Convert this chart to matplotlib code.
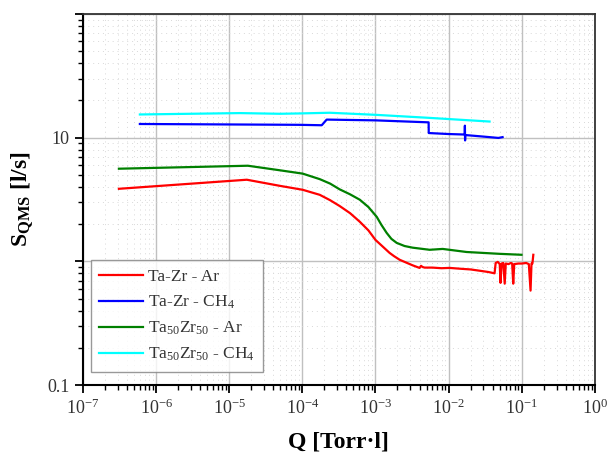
import matplotlib
matplotlib.use("Agg")
import matplotlib.pyplot as plt
from matplotlib.ticker import LogLocator, NullFormatter

plt.rcParams["font.family"] = ["Liberation Serif", "DejaVu Serif"]
plt.rcParams["mathtext.fontset"] = "custom"
plt.rcParams["mathtext.rm"] = "Liberation Serif"
plt.rcParams["mathtext.it"] = "Liberation Serif:italic"
plt.rcParams["mathtext.bf"] = "Liberation Serif:bold"
plt.rcParams["mathtext.default"] = "regular"

# Ta-Zr in Ar
q_tazr_ar = [3.1e-7, 1.74e-5, 4.9e-5, 1.01e-4, 1.73e-4, 2.4e-4, 3.24e-4, 4.5e-4, 6.1e-4,
             8.0e-4, 1.0e-3, 1.25e-3, 1.56e-3, 1.8e-3, 2.14e-3, 2.6e-3, 3.2e-3, 4.0e-3,
             4.2e-3, 4.4e-3, 4.7e-3, 6.0e-3, 8.0e-3, 1.03e-2, 1.5e-2, 2.0e-2, 2.65e-2,
             3.5e-2, 4.25e-2,
             0.0440, 0.0470, 0.0500, 0.0513, 0.0530, 0.0560, 0.0585, 0.0605, 0.0660,
             0.0710, 0.0740, 0.0765, 0.0790, 0.0900, 0.1000, 0.1150, 0.1250, 0.1320,
             0.1360, 0.1400, 0.1440]
s_tazr_ar = [3.86, 4.57, 4.08, 3.79, 3.45, 3.12, 2.80, 2.45, 2.09,
             1.78, 1.49, 1.32, 1.17, 1.10, 1.03, 0.98, 0.93, 0.885,
             0.92, 0.90, 0.89, 0.89, 0.88, 0.885, 0.87, 0.86, 0.84,
             0.82, 0.80,
             0.97, 0.99, 0.95, 0.67, 0.96, 0.97, 0.66, 0.96, 0.95,
             0.97, 0.96, 0.66, 0.95, 0.96, 0.96, 0.97, 0.95, 0.58,
             0.96, 0.96, 1.13]

# Ta-Zr in CH4
q_tazr_ch4 = [6.0e-7, 9.2e-5, 1.84e-4, 2.15e-4, 1.0e-3, 5.33e-3, 5.35e-3, 1.0e-2,
              1.66e-2, 1.67e-2, 1.68e-2, 1.69e-2, 3.0e-2, 4.8e-2, 5.47e-2]
s_tazr_ch4 = [12.9, 12.7, 12.6, 14.0, 13.8, 13.3, 10.9, 10.7,
              10.6, 12.5, 9.5, 10.5, 10.2, 9.95, 10.1]

# Ta50Zr50 in Ar
q_ta50_ar = [3.1e-7, 1.8e-5, 4.9e-5, 1.01e-4, 1.73e-4, 2.4e-4, 3.24e-4, 4.5e-4, 6.1e-4,
             8.0e-4, 1.04e-3, 1.2e-3, 1.42e-3, 1.65e-3, 1.95e-3, 2.5e-3, 3.22e-3,
             5.5e-3, 8.3e-3, 1.76e-2, 4.98e-2, 9.93e-2]
s_ta50_ar = [5.61, 5.93, 5.45, 5.12, 4.62, 4.25, 3.82, 3.48, 3.15,
             2.75, 2.29, 1.98, 1.70, 1.52, 1.41, 1.33, 1.29,
             1.24, 1.26, 1.19, 1.15, 1.13]

# Ta50Zr50 in CH4
q_ta50_ch4 = [6.0e-7, 1.40e-5, 4.9e-5, 9.2e-5, 2.37e-4, 1.0e-3, 5.0e-3, 3.63e-2]
s_ta50_ch4 = [15.4, 15.8, 15.6, 15.7, 15.9, 15.3, 14.5, 13.5]

labels = ["Ta-Zr - Ar", "Ta-Zr - CH$_4$",
          "Ta$_{50}$Zr$_{50}$ - Ar", "Ta$_{50}$Zr$_{50}$ - CH$_4$"]
colors = ["#ff0000", "#0000ff", "#008000", "#00ffff"]

x_ticks = [1e-7, 1e-6, 1e-5, 1e-4, 1e-3, 1e-2, 1e-1, 1e0]
x_tick_labels = ["$10^{-7}$", "$10^{-6}$", "$10^{-5}$", "$10^{-4}$",
                 "$10^{-3}$", "$10^{-2}$", "$10^{-1}$", "$10^{0}$"]
y_ticks = [0.1, 1, 10, 100]
y_tick_labels = ["0.1", "", "10", ""]

fig = plt.figure(figsize=(6.07, 4.57), dpi=100)
ax = fig.add_axes([0.1367, 0.1575, 0.8433, 0.8119])

series = [(q_tazr_ar, s_tazr_ar), (q_tazr_ch4, s_tazr_ch4),
          (q_ta50_ar, s_ta50_ar), (q_ta50_ch4, s_ta50_ch4)]
for (q, s), lab, c in zip(series, labels, colors):
    ax.plot(q, s, color=c, lw=1.6, label=lab, zorder=3)

ax.set_xscale("log")
ax.set_yscale("log")
ax.set_xlim(1e-7, 1e0)
ax.set_ylim(0.1, 100)

ax.set_xticks(x_ticks, x_tick_labels)
ax.set_yticks(y_ticks, y_tick_labels)
ax.xaxis.set_minor_locator(LogLocator(base=10, subs=range(2, 10), numticks=20))
ax.yaxis.set_minor_locator(LogLocator(base=10, subs=range(2, 10), numticks=20))
ax.xaxis.set_minor_formatter(NullFormatter())
ax.yaxis.set_minor_formatter(NullFormatter())

ax.tick_params(which="major", direction="out", length=6, width=1.3,
               labelsize=13, labelcolor="#333333", top=False, right=False)
ax.tick_params(which="minor", direction="out", length=3.5, width=1.0,
               top=False, right=False)

ax.grid(True, which="major", color="#c0c0c0", lw=1.0, ls="-", zorder=0)
ax.grid(True, which="minor", color="#d8d8d8", lw=0.7, ls=(0, (1, 4)), zorder=0)
ax.set_axisbelow(True)

for side in ["left", "bottom"]:
    ax.spines[side].set_linewidth(1.5)
    ax.spines[side].set_color("black")
for side in ["top", "right"]:
    ax.spines[side].set_linewidth(1.3)
    ax.spines[side].set_color("#333333")

ax.set_xlabel("Q [Torr·l]", fontsize=17, fontweight="bold", labelpad=10)
ax.set_ylabel("S$_{QMS}$ [l/s]", fontsize=17, fontweight="bold", labelpad=8)

leg = ax.legend(loc="lower left", bbox_to_anchor=(0.015, 0.035), borderaxespad=0,
                fontsize=12.5, frameon=True, fancybox=False, handlelength=2.5,
                handletextpad=0.3, labelspacing=0.5, borderpad=0.5)
leg.get_frame().set_edgecolor("#808080")
leg.get_frame().set_linewidth(1.0)
for t in leg.get_texts():
    t.set_color("#333333")

fig.savefig("out.png", dpi=100)
